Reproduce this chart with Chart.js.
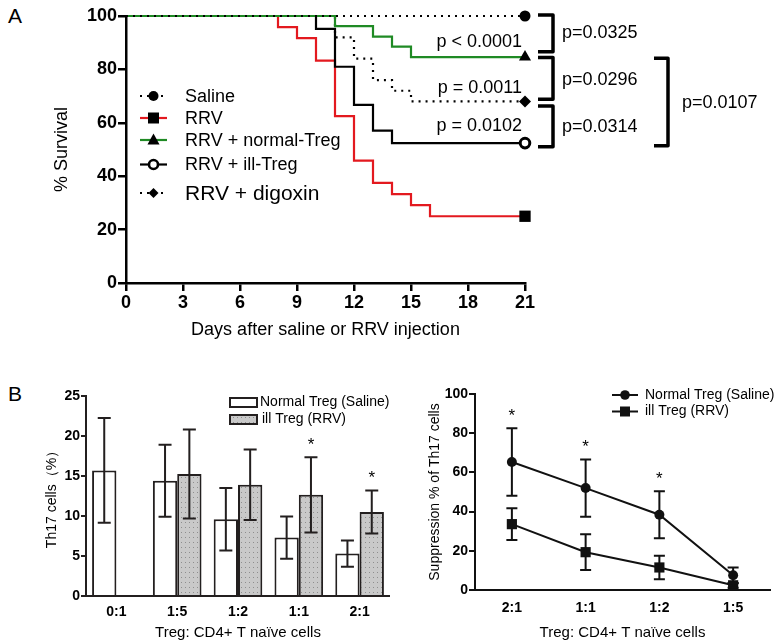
<!DOCTYPE html>
<html><head><meta charset="utf-8">
<script src="https://cdn.jsdelivr.net/npm/chart.js@4.4.1/dist/chart.umd.min.js"></script>
<style>
html,body{margin:0;padding:0;background:#fff;}
body{width:778px;height:644px;position:relative;overflow:hidden;font-family:"Liberation Sans",Arial,sans-serif;}
canvas{position:absolute;}
.lbl{position:absolute;font-size:21px;color:#000;line-height:1;}
</style></head><body>
<div class="lbl" style="left:8px;top:5px">A</div>
<div class="lbl" style="left:8px;top:383px">B</div>
<canvas id="ca" width="778" height="345" style="left:0;top:0"></canvas>
<canvas id="cb" width="390" height="264" style="left:0;top:380px"></canvas>
<canvas id="cc" width="388" height="264" style="left:390px;top:380px"></canvas>
<script>
// ---------- Panel A data (Kaplan-Meier) ----------
const seriesNamesA = ['Saline', 'RRV', 'RRV + normal-Treg', 'RRV + ill-Treg', 'RRV + digoxin'];
const salineDays  = [0, 21];
const salineSurv  = [100, 100];
const rrvDays     = [0, 8, 9, 10, 11, 12, 13, 14, 15, 16, 21];
const rrvSurv     = [100, 95.8, 91.7, 83.3, 62.5, 45.8, 37.5, 33.3, 29.2, 25, 25];
const normalDays  = [0, 11, 13, 14, 15, 21];
const normalSurv  = [100, 96.2, 92.3, 88.5, 84.6, 84.6];
const illDays     = [0, 10, 11, 12, 13, 14, 21];
const illSurv     = [100, 95.2, 81.0, 66.7, 57.1, 52.4, 52.4];
const digoxinDays = [0, 11, 12, 13, 14, 15, 21];
const digoxinSurv = [100, 92, 84, 76, 72, 68, 68];
const xTicksA = [0, 3, 6, 9, 12, 15, 18, 21];
const yTicksA = [0, 20, 40, 60, 80, 100];
const pInner  = ['p < 0.0001', 'p = 0.0011', 'p = 0.0102'];
const pRight  = ['p=0.0325', 'p=0.0296', 'p=0.0314'];
const pOuter  = 'p=0.0107';

// ---------- Panel B left (bars) ----------
const barCats      = ['0:1', '1:5', '1:2', '1:1', '2:1'];
const barNormal    = [15.7, 14.4, 9.6, 7.3, 5.3];
const barNormalErr = [6.55, 4.5, 3.9, 2.65, 1.65];
const barIll       = [null, 15.25, 13.9, 12.65, 10.5];
const barIllErr    = [null, 5.55, 4.4, 4.7, 2.7];
const barIllSig    = [false, false, false, true, true];
const yTicksB      = [0, 5, 10, 15, 20, 25];

// ---------- Panel B right (lines) ----------
const lineCats      = ['2:1', '1:1', '1:2', '1:5'];
const lineNormal    = [65.3, 52.0, 38.4, 7.5];
const lineNormalErr = [17.2, 14.6, 12.0, 4.0];
const lineNormalSig = [true, true, true, false];
const lineIll       = [33.6, 19.3, 11.5, 2.4];
const lineIllErr    = [8.1, 9.1, 6.0, 1.2];
const yTicksC       = [0, 20, 40, 60, 80, 100];

const FONT = '"Liberation Sans", Arial, sans-serif';
Chart.defaults.font.family = FONT;
Chart.defaults.color = '#000';
const DARK = '#231f1f';

function km(days, surv){ return days.map((d,i)=>({x:d, y:surv[i]})); }
function endOnly(r){ return c => (c.dataIndex === c.dataset.data.length-1 ? r : 0); }

function marker(ctx, style, x, y, r, fill, stroke, bw){
  ctx.save();
  ctx.beginPath();
  if(style==='circle'){ ctx.arc(x,y,r,0,Math.PI*2); }
  else if(style==='rect'){ ctx.rect(x-r,y-r,2*r,2*r); }
  else if(style==='triangle'){ ctx.moveTo(x,y-r*1.1); ctx.lineTo(x+r,y+r*0.75); ctx.lineTo(x-r,y+r*0.75); ctx.closePath(); }
  else if(style==='diamond'){ ctx.moveTo(x,y-r); ctx.lineTo(x+r,y); ctx.lineTo(x,y+r); ctx.lineTo(x-r,y); ctx.closePath(); }
  ctx.fillStyle=fill; ctx.fill();
  if(bw>0){ ctx.lineWidth=bw; ctx.strokeStyle=stroke; ctx.stroke(); }
  ctx.restore();
}

// ---------- Panel A ----------
const legA = [
  {dash:[2,5], color:'#000', style:'circle', r:5, fill:'#000', bw:0, size:18},
  {dash:[], color:'#e3191f', style:'rect', r:5.5, fill:'#000', bw:0, size:18},
  {dash:[], color:'#1f8a24', style:'triangle', r:6, fill:'#000', bw:0, size:18},
  {dash:[], color:'#000', style:'circle', r:4.5, fill:'#fff', bw:2.6, size:18},
  {dash:[2,5], color:'#000', style:'diamond', r:5, fill:'#000', bw:0, size:21}
];
const legAY = [96, 118, 140, 164.5, 193];

const survPlugin = {
  id:'survPlugin',
  afterDraw(chart){
    const {ctx} = chart; const y = chart.scales.y;
    ctx.save();
    // legend
    legA.forEach((L,i)=>{
      const yy = legAY[i];
      ctx.save(); ctx.strokeStyle=L.color; ctx.lineWidth=2.2; ctx.setLineDash(L.dash);
      ctx.beginPath(); ctx.moveTo(140,yy); ctx.lineTo(167,yy); ctx.stroke(); ctx.restore();
      marker(ctx, L.style, 153.5, yy, L.r, L.fill, '#000', L.bw);
      ctx.fillStyle='#000'; ctx.font = L.size+'px '+FONT; ctx.textAlign='left'; ctx.textBaseline='middle';
      ctx.fillText(seriesNamesA[i], 185, yy+1);
    });
    // inner p values
    ctx.font='18px '+FONT; ctx.textAlign='right'; ctx.textBaseline='middle'; ctx.fillStyle='#000';
    const innerV=[90.4, 73.0, 58.9];
    pInner.forEach((t,i)=>ctx.fillText(t, 522, y.getPixelForValue(innerV[i])));
    // brackets
    function bracket(x1,x2,v1,v2){
      const a=y.getPixelForValue(v1), b=y.getPixelForValue(v2);
      ctx.beginPath(); ctx.moveTo(x1,a); ctx.lineTo(x2,a); ctx.lineTo(x2,b); ctx.lineTo(x1,b);
      ctx.lineWidth=3.5; ctx.strokeStyle='#000'; ctx.lineJoin='round'; ctx.stroke();
    }
    bracket(538,553,100.4,86.6);
    bracket(538,553,84.5,68.8);
    bracket(538,553,66.3,51.0);
    bracket(654,668,84.2,51.4);
    ctx.textAlign='left';
    const rightV=[93.5, 76.0, 58.5];
    pRight.forEach((t,i)=>ctx.fillText(t, 562, y.getPixelForValue(rightV[i])));
    ctx.fillText(pOuter, 682, y.getPixelForValue(67.5));
    ctx.restore();
  }
};

const commonLine = {stepped:'before', tension:0, clip:false, borderWidth:2.2, pointBorderColor:'#000'};
new Chart(document.getElementById('ca'), {
  type:'line',
  data:{datasets:[
    Object.assign({}, commonLine, {label:seriesNamesA[0], data:km(salineDays,salineSurv), borderColor:'#000', borderDash:[2,5], pointStyle:'circle', pointRadius:endOnly(5.5), pointBackgroundColor:'#000', pointBorderWidth:0}),
    Object.assign({}, commonLine, {label:seriesNamesA[2], data:km(normalDays,normalSurv), borderColor:'#1f8a24', pointStyle:'triangle', pointRadius:endOnly(7), pointBackgroundColor:'#000', pointBorderWidth:0}),
    Object.assign({}, commonLine, {label:seriesNamesA[4], data:km(digoxinDays,digoxinSurv), borderColor:'#000', borderDash:[2,5], pointStyle:'rectRot', pointRadius:endOnly(6), pointBackgroundColor:'#000', pointBorderWidth:0}),
    Object.assign({}, commonLine, {label:seriesNamesA[3], data:km(illDays,illSurv), borderColor:'#000', pointStyle:'circle', pointRadius:endOnly(4.8), pointBackgroundColor:'#fff', pointBorderWidth:3}),
    Object.assign({}, commonLine, {label:seriesNamesA[1], data:km(rrvDays,rrvSurv), borderColor:'#e3191f', pointStyle:'rect', pointRadius:endOnly(8), pointBackgroundColor:'#000', pointBorderWidth:0})
  ]},
  options:{
    responsive:false, animation:false, events:[],
    layout:{padding:{top:16,right:253,left:0,bottom:0}},
    plugins:{legend:{display:false}, tooltip:{enabled:false}},
    scales:{
      x:{type:'linear', min:0, max:21,
        afterBuildTicks(s){ s.ticks = xTicksA.map(v=>({value:v})); },
        ticks:{color:'#000', font:{size:18, weight:'bold'}, padding:1, maxRotation:0, autoSkip:false},
        grid:{drawOnChartArea:false, drawTicks:true, tickLength:8, color:'#000', lineWidth:2.5},
        border:{color:'#000', width:2.5},
        title:{display:true, text:'Days after saline or RRV injection', color:'#000', font:{size:18}, padding:{top:0,bottom:4}},
        afterFit(s){ s.height = 62; }
      },
      y:{min:0, max:100,
        afterBuildTicks(s){ s.ticks = yTicksA.map(v=>({value:v})); },
        ticks:{color:'#000', font:{size:18, weight:'bold'}, padding:1},
        grid:{drawOnChartArea:false, drawTicks:true, tickLength:8, color:'#000', lineWidth:2.5},
        border:{color:'#000', width:2.5},
        title:{display:true, text:'% Survival', color:'#000', font:{size:18}, padding:{top:51,bottom:0}},
        afterFit(s){ s.width = 126; }
      }
    }
  },
  plugins:[survPlugin]
});

// ---------- Error bar plugin ----------
const errPlugin = {
  id:'errPlugin',
  afterDatasetsDraw(chart, args, opts){
    const ctx = chart.ctx;
    chart.data.datasets.forEach((ds,di)=>{
      if(!ds.errors) return;
      const meta = chart.getDatasetMeta(di);
      const ys = chart.scales[meta.yAxisID];
      meta.data.forEach((el,i)=>{
        const v = ds.data[i], e = ds.errors[i];
        if(v==null || e==null) return;
        const x = el.x, yt = ys.getPixelForValue(v+e), yb = ys.getPixelForValue(v-e);
        ctx.save();
        ctx.strokeStyle = opts.color; ctx.lineWidth = opts.width;
        ctx.beginPath();
        ctx.moveTo(x,yt); ctx.lineTo(x,yb);
        ctx.moveTo(x-opts.cap,yt); ctx.lineTo(x+opts.cap,yt);
        ctx.moveTo(x-opts.cap,yb); ctx.lineTo(x+opts.cap,yb);
        ctx.stroke();
        if(ds.sig && ds.sig[i]){
          ctx.fillStyle = '#000'; ctx.font = '17px '+FONT; ctx.textAlign='center'; ctx.textBaseline='middle';
          ctx.fillText('*', x, yt - opts.starGap);
        }
        ctx.restore();
      });
    });
  }
};

// ---------- Panel B left ----------
function dotPattern(){
  const c = document.createElement('canvas'); c.width = 4; c.height = 5;
  const g = c.getContext('2d');
  g.fillStyle = '#c9c9c9'; g.fillRect(0,0,4,5);
  g.fillStyle = '#8e8e8e'; g.fillRect(1,2,1,1);
  return g.createPattern(c,'repeat');
}
const pat = dotPattern();

const barLegend = {
  id:'barLegend',
  afterDraw(chart){
    const ctx = chart.ctx; ctx.save();
    const items = [{fill:'#fff', y:22.5, x:260}, {fill:pat, y:39.5, x:262}];
    chart.data.datasets.forEach((ds,i)=>{
      const it = items[i];
      ctx.fillStyle = it.fill; ctx.fillRect(230, it.y-4.5, 27, 9);
      ctx.strokeStyle = DARK; ctx.lineWidth = 2; ctx.strokeRect(230, it.y-4.5, 27, 9);
      ctx.fillStyle = '#000'; ctx.font = '14px '+FONT; ctx.textAlign='left'; ctx.textBaseline='middle';
      ctx.fillText(ds.label, it.x, it.y);
    });
    ctx.restore();
  }
};

new Chart(document.getElementById('cb'), {
  type:'bar',
  data:{labels:barCats, datasets:[
    {label:'Normal Treg (Saline)', data:barNormal, errors:barNormalErr, backgroundColor:'#fff', borderColor:DARK, borderWidth:2, categoryPercentage:0.8, barPercentage:1.0},
    {label:'ill Treg (RRV)', data:barIll, errors:barIllErr, sig:barIllSig, backgroundColor:pat, borderColor:DARK, borderWidth:2, categoryPercentage:0.8, barPercentage:1.0}
  ]},
  options:{
    responsive:false, animation:false, events:[],
    layout:{padding:{top:16,right:0,left:0,bottom:0}},
    plugins:{legend:{display:false}, tooltip:{enabled:false}, errPlugin:{color:DARK, width:2, cap:6.5, starGap:12}},
    scales:{
      x:{ticks:{color:'#000', font:{size:14, weight:'bold'}, padding:8},
        grid:{display:false, drawTicks:false},
        border:{color:DARK, width:2},
        title:{display:true, text:'Treg: CD4+ T naïve cells', color:'#000', font:{size:15}, padding:{top:0,bottom:2}},
        afterFit(s){ s.height = 48; }
      },
      y:{min:0, max:25,
        afterBuildTicks(s){ s.ticks = yTicksB.map(v=>({value:v})); },
        ticks:{color:'#000', font:{size:14, weight:'bold'}, padding:1},
        grid:{drawOnChartArea:false, drawTicks:true, tickLength:5, color:DARK, lineWidth:2},
        border:{color:DARK, width:2},
        title:{display:true, text:'Th17 cells（%）', color:'#000', font:{size:14}, padding:{top:44,bottom:0}},
        afterFit(s){ s.width = 86; }
      }
    }
  },
  plugins:[errPlugin, barLegend]
});

// ---------- Panel B right ----------
const lineLegend = {
  id:'lineLegend',
  afterDraw(chart){
    const ctx = chart.ctx; ctx.save();
    const ys = [15, 31.5];
    chart.data.datasets.forEach((ds,i)=>{
      const yy = ys[i];
      ctx.strokeStyle = '#111'; ctx.lineWidth = 2;
      ctx.beginPath(); ctx.moveTo(222,yy); ctx.lineTo(248,yy); ctx.stroke();
      if(i===0) marker(ctx,'circle',235,yy,4.8,'#111','#111',0);
      else marker(ctx,'rect',235,yy,5,'#111','#111',0);
      ctx.fillStyle = '#000'; ctx.font = '14px '+FONT; ctx.textAlign='left'; ctx.textBaseline='middle';
      ctx.fillText(ds.label, 255, yy);
    });
    ctx.restore();
  }
};

new Chart(document.getElementById('cc'), {
  type:'line',
  data:{labels:lineCats, datasets:[
    {label:'Normal Treg (Saline)', data:lineNormal, errors:lineNormalErr, sig:lineNormalSig, borderColor:'#111', borderWidth:2, tension:0, pointStyle:'circle', pointRadius:5, pointBackgroundColor:'#111', pointBorderWidth:0, clip:false},
    {label:'ill Treg (RRV)', data:lineIll, errors:lineIllErr, borderColor:'#111', borderWidth:2, tension:0, pointStyle:'rect', pointRadius:7.2, pointBackgroundColor:'#111', pointBorderWidth:0, clip:false}
  ]},
  options:{
    responsive:false, animation:false, events:[],
    layout:{padding:{top:14,right:8,left:0,bottom:0}},
    plugins:{legend:{display:false}, tooltip:{enabled:false}, errPlugin:{color:'#111', width:2, cap:5.5, starGap:12}},
    scales:{
      x:{offset:true, ticks:{color:'#000', font:{size:14, weight:'bold'}, padding:10},
        grid:{display:false, drawTicks:false},
        border:{color:'#111', width:2},
        title:{display:true, text:'Treg: CD4+ T naïve cells', color:'#000', font:{size:15}, padding:{top:0,bottom:2}},
        afterFit(s){ s.height = 54; }
      },
      y:{min:0, max:100,
        afterBuildTicks(s){ s.ticks = yTicksC.map(v=>({value:v})); },
        ticks:{color:'#000', font:{size:14, weight:'bold'}, padding:1},
        grid:{drawOnChartArea:false, drawTicks:true, tickLength:6, color:'#111', lineWidth:2},
        border:{color:'#111', width:2},
        title:{display:true, text:'Suppression % of Th17 cells', color:'#000', font:{size:14}, padding:{top:37,bottom:0}},
        afterFit(s){ s.width = 85; }
      }
    }
  },
  plugins:[errPlugin, lineLegend]
});
</script>
</body></html>
